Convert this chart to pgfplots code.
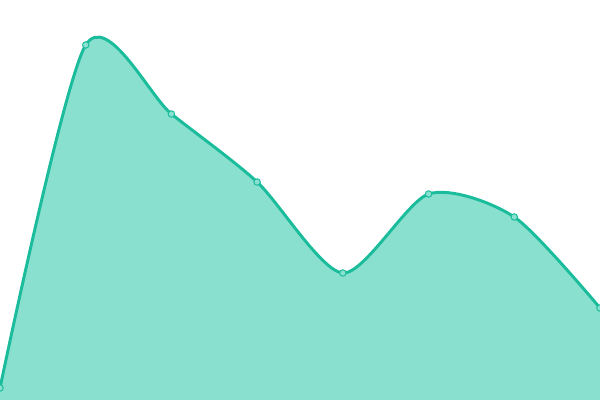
\documentclass[border=0pt]{standalone}
\usepackage{pgfplots}
\pgfplotsset{compat=1.18}
\definecolor{linecol}{RGB}{26,188,156}
\definecolor{areacol}{RGB}{137,224,207}
\begin{document}
\begin{tikzpicture}
\begin{axis}[
    width=15cm, height=10cm,
    scale only axis,
    axis lines=none,
    xmin=0, xmax=7,
    ymin=0, ymax=400,
    clip=true,
    clip marker paths=true,
]
\addplot[draw=none, fill=areacol, smooth, tension=0.45] coordinates {
    (0,12) (1,355) (2,286) (3,218) (4,127) (5,206) (6,183) (7,92)
} \closedcycle;
\addplot[linecol, line width=2.1pt, smooth, tension=0.45,
    mark=*, mark size=2.3pt,
    mark options={fill=areacol, draw=linecol, line width=0.7pt}] coordinates {
    (0,12) (1,355) (2,286) (3,218) (4,127) (5,206) (6,183) (7,92)
};
\end{axis}
\pgfresetboundingbox
\path[use as bounding box] (current axis.south west) rectangle (current axis.north east);
\end{tikzpicture}
\end{document}
